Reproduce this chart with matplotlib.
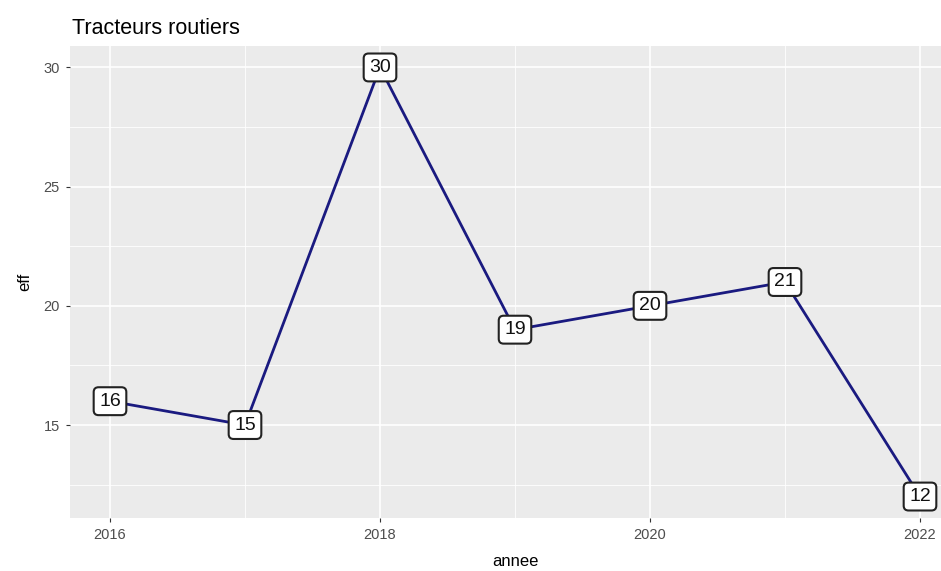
import matplotlib
matplotlib.use("Agg")
import matplotlib.pyplot as plt
from matplotlib.ticker import MultipleLocator

annee = [2016, 2017, 2018, 2019, 2020, 2021, 2022]
eff = [16, 15, 30, 19, 20, 21, 12]
xticks = [2016, 2018, 2020, 2022]
yticks = [15, 20, 25, 30]

plt.rcParams['font.family'] = ['Liberation Sans', 'DejaVu Sans']

W, H = 941, 571
fig = plt.figure(figsize=(W / 100, H / 100), dpi=100)
# panel in pixel coords: left 69.5, right 960.5 (cropped), top 46, bottom 518
left, right, top, bottom = 69.5, 960.5, 46, 518
ax = fig.add_axes([left / W, 1 - bottom / H, (right - left) / W, (bottom - top) / H])
ax.set_facecolor("#EBEBEB")
for s in ax.spines.values():
    s.set_visible(False)

xr = max(annee) - min(annee)
ax.set_xlim(min(annee) - 0.05 * xr, max(annee) + 0.05 * xr)
yr = max(eff) - min(eff)
ax.set_ylim(min(eff) - 0.05 * yr, max(eff) + 0.05 * yr)

ax.set_xticks(xticks)
ax.set_yticks(yticks)
ax.xaxis.set_minor_locator(MultipleLocator(1))
ax.yaxis.set_minor_locator(MultipleLocator(2.5))
ax.grid(True, which="major", color="white", linewidth=1.2)
ax.grid(True, which="minor", color="white", linewidth=0.6)
ax.set_axisbelow(True)
ax.tick_params(which="minor", length=0)
ax.tick_params(which="major", length=3, color="#333333", width=0.8,
               labelsize=10.5, labelcolor="#4D4D4D", pad=4)

ax.plot(annee, eff, color="#1a1a80", linewidth=2.0, zorder=2)
for x, y in zip(annee, eff):
    ax.text(x, y, str(y), ha="center", va="center", fontsize=14, color="#111111",
            zorder=3,
            bbox=dict(boxstyle="round,pad=0.28,rounding_size=0.25", facecolor="white",
                      edgecolor="#222222", linewidth=1.5))

ax.set_xlabel("annee", fontsize=12, color="black", labelpad=9)
ax.set_ylabel("eff", fontsize=12, color="black", labelpad=8)
fig.text(72 / W, 1 - 28 / H, "Tracteurs routiers", fontsize=15.5, color="black",
         ha="left", va="center")

fig.savefig("out.png", dpi=100)
